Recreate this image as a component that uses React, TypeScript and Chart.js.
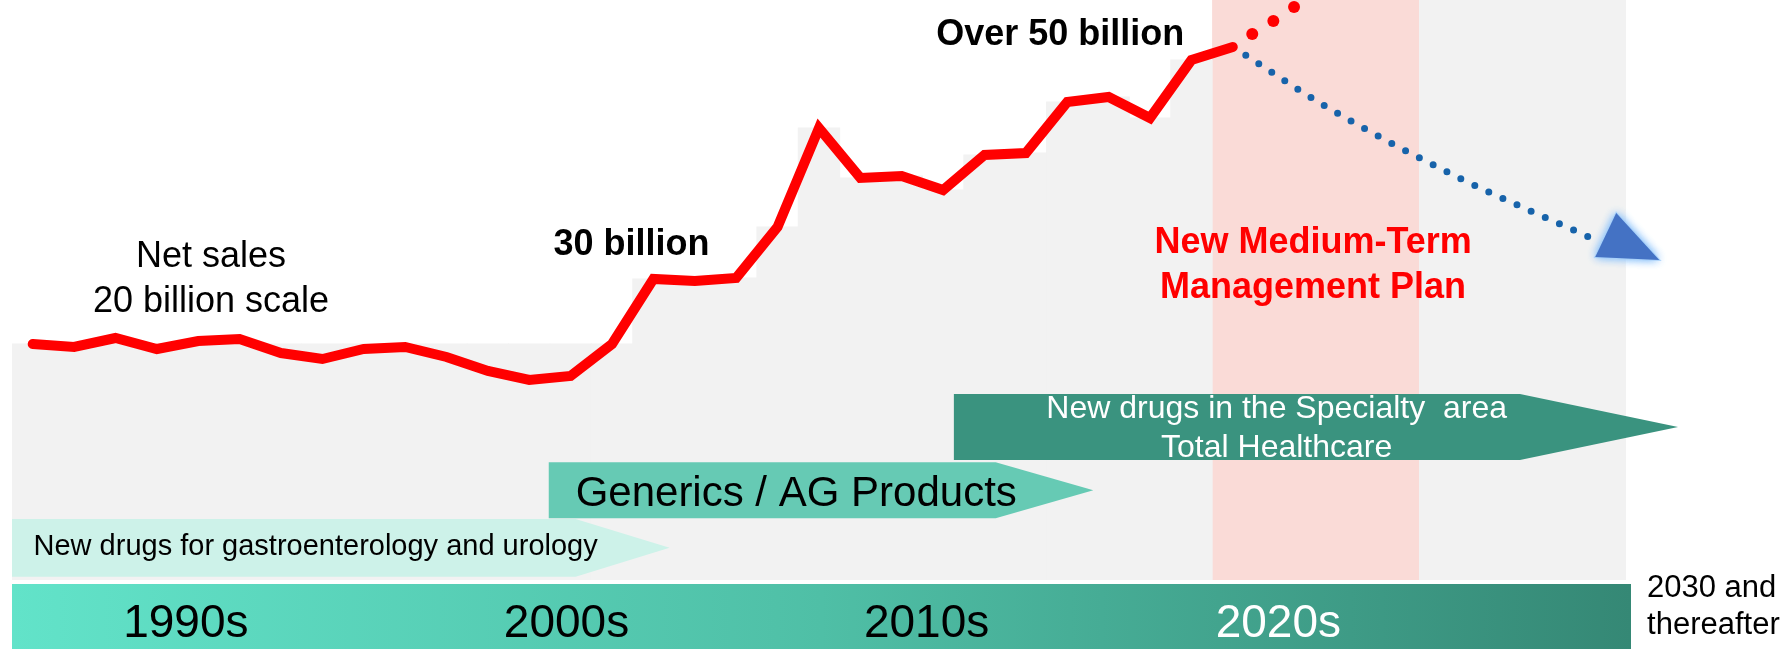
import React, { useEffect, useRef } from 'react';
import { Chart, registerables } from 'chart.js';

Chart.register(...registerables);

// ---------- data ----------
const years = [1990, 1991, 1992, 1993, 1994, 1995, 1996, 1997, 1998, 1999, 2000, 2001, 2002, 2003, 2004, 2005, 2006, 2007, 2008, 2009, 2010, 2011, 2012, 2013, 2014, 2015, 2016, 2017, 2018, 2019];
const netSales = [23.6, 23.3, 24.2, 23.1, 23.9, 24.1, 22.7, 22.1, 23.1, 23.3, 22.3, 20.9, 20.0, 20.4, 23.6, 30.1, 29.9, 30.2, 35.3, 45.2, 40.2, 40.4, 39.0, 42.5, 42.7, 47.8, 48.3, 46.2, 52.0, 53.3];

// stepped grey backdrop (one block per year, 1990-2018)
const backdropYears = [1990, 1991, 1992, 1993, 1994, 1995, 1996, 1997, 1998, 1999, 2000, 2001, 2002, 2003, 2004, 2005, 2006, 2007, 2008, 2009, 2010, 2011, 2012, 2013, 2014, 2015, 2016, 2017, 2018];
const backdropValues = [23.6, 23.6, 23.6, 23.6, 23.6, 23.6, 23.6, 23.6, 23.6, 23.6, 23.6, 23.6, 23.6, 23.6, 23.6, 30.1, 29.9, 30.2, 35.3, 45.2, 40.2, 40.4, 39.0, 42.5, 42.7, 47.8, 48.3, 46.2, 52.0];

// upside (red dots) and downside outlook (blue dotted curve)
const upsideYears = [2019.47, 2019.98, 2020.48];
const upsideValues = [54.6, 55.9, 57.3];
const outlookYears = [2019, 2021.31, 2024.33, 2027.71];
const outlookValues = [53.3, 47.2, 40.5, 34.1];

// bands
const planBand = [2018.5, 2023.5];
const futureBand = [2023.5, 2028.5];

// business arrows
const arrowLines = [
  ['New drugs for gastroenterology and urology'],
  ['Generics / AG Products'],
  ['New drugs in the Specialty  area', 'Total Healthcare'],
];
const arrowStart = [1989.5, 2002.47, 2012.26];
const arrowBodyEnd = [2003.12, 2013.27, 2025.94];
const arrowTip = [2005.39, 2015.63, 2029.76];
const arrowTop = [6.1, 11.77, 18.6];
const arrowBottom = [0.33, 6.17, 12.0];
const arrowTextX = [1990.02, 2003.12, 2020.06];
const arrowTextY = [[2.5], [7.43], [16.17, 12.33]];

// annotations
const noteTexts = ['Net sales', '20 billion scale', '30 billion', 'Over 50 billion', 'New Medium-Term', 'Management Plan'];
const noteX = [1994.31, 1994.31, 2004.47, 2014.83, 2020.94, 2020.94];
const noteY = [31.33, 26.83, 32.5, 53.5, 32.67, 28.2];

// decade band
const decades = ['1990s', '2000s', '2010s', '2020s'];
const decadeX = [1993.7, 2002.9, 2011.6, 2020.1];
const decadeY = -5.67;
const futureLabel = ['2030 and', 'thereafter'];
const futureLabelX = 2029.01;
const futureLabelY = [-1.67, -5.4];

// ---------- styles ----------
const FONT = '"Liberation Sans", Arial, Helvetica, sans-serif';
const noteStyles = [
  { font: `36px ${FONT}`, color: '#000000' },
  { font: `36px ${FONT}`, color: '#000000' },
  { font: `bold 36px ${FONT}`, color: '#000000' },
  { font: `bold 36px ${FONT}`, color: '#000000' },
  { font: `bold 36px ${FONT}`, color: '#ff0000' },
  { font: `bold 36px ${FONT}`, color: '#ff0000' },
];
const arrowStyles = [
  { fill: '#cdf2e9', font: `29px ${FONT}`, color: '#000000', align: 'left' },
  { fill: '#66cab4', font: `42px ${FONT}`, color: '#000000', align: 'left' },
  { fill: '#3a937f', font: `32px ${FONT}`, color: '#ffffff', align: 'center' },
];
const decadeColors = ['#000000', '#000000', '#000000', '#ffffff'];

const decorPlugin = {
  id: 'decor',
  beforeDatasetsDraw(chart: any) {
    const { ctx, chartArea, scales } = chart;
    const x = scales.x;
    ctx.save();
    ctx.fillStyle = '#f2f2f2';
    const f0 = x.getPixelForValue(futureBand[0]);
    const f1 = x.getPixelForValue(futureBand[1]);
    ctx.fillRect(f0 - 0.5, chartArea.top, f1 - f0 + 0.5, chartArea.bottom - chartArea.top);
    ctx.fillStyle = '#fadbd7';
    const p0 = x.getPixelForValue(planBand[0]);
    const p1 = x.getPixelForValue(planBand[1]);
    ctx.fillRect(p0, chartArea.top, p1 - p0, chartArea.bottom - chartArea.top);
    ctx.restore();
  },
  afterDatasetsDraw(chart: any) {
    const { ctx, chartArea, scales } = chart;
    const x = scales.x;
    const y = scales.y;
    ctx.save();

    // business arrows
    for (let i = 0; i < arrowLines.length; i++) {
      const st = arrowStyles[i];
      const xl = x.getPixelForValue(arrowStart[i]);
      const xb = x.getPixelForValue(arrowBodyEnd[i]);
      const xt = x.getPixelForValue(arrowTip[i]);
      const yt = y.getPixelForValue(arrowTop[i]);
      const yb = y.getPixelForValue(arrowBottom[i]);
      ctx.beginPath();
      ctx.moveTo(xl, yt);
      ctx.lineTo(xb, yt);
      ctx.lineTo(xt, (yt + yb) / 2);
      ctx.lineTo(xb, yb);
      ctx.lineTo(xl, yb);
      ctx.closePath();
      ctx.fillStyle = st.fill;
      ctx.fill();
      ctx.font = st.font;
      ctx.fillStyle = st.color;
      ctx.textAlign = st.align;
      ctx.textBaseline = 'alphabetic';
      arrowLines[i].forEach((line, j) => {
        ctx.fillText(line, x.getPixelForValue(arrowTextX[i]), y.getPixelForValue(arrowTextY[i][j]));
      });
    }

    // annotations
    ctx.textAlign = 'center';
    ctx.textBaseline = 'alphabetic';
    noteTexts.forEach((t, i) => {
      ctx.font = noteStyles[i].font;
      ctx.fillStyle = noteStyles[i].color;
      ctx.fillText(t, x.getPixelForValue(noteX[i]), y.getPixelForValue(noteY[i]));
    });

    // outlook arrow head
    const last = outlookYears.length - 1;
    const hx = x.getPixelForValue(outlookYears[last]);
    const hy = y.getPixelForValue(outlookValues[last]);
    const tri = () => {
      ctx.beginPath();
      ctx.moveTo(hx + 23, hy - 26);
      ctx.lineTo(hx + 66, hy + 21);
      ctx.lineTo(hx + 2, hy + 18);
      ctx.closePath();
    };
    ctx.shadowColor = 'rgba(140, 195, 250, 1)';
    ctx.shadowBlur = 10;
    ctx.fillStyle = '#4472c4';
    tri();
    ctx.fill();
    tri();
    ctx.fill();
    ctx.shadowBlur = 0;
    ctx.shadowColor = 'transparent';
    ctx.strokeStyle = 'rgba(170, 210, 250, 0.9)';
    ctx.lineWidth = 2;
    tri();
    ctx.stroke();
    ctx.fillStyle = '#4472c4';
    tri();
    ctx.fill();

    // decade band
    const top = chartArea.bottom + 4;
    const left = chartArea.left;
    const right = chartArea.right + 3;
    const grad = ctx.createLinearGradient(left, 0, right, 0);
    grad.addColorStop(0, '#62e3c9');
    grad.addColorStop(0.5, '#4fbfa6');
    grad.addColorStop(1, '#358875');
    ctx.fillStyle = grad;
    ctx.fillRect(left, top, right - left, chart.height - top);
    ctx.font = `46px ${FONT}`;
    ctx.textAlign = 'center';
    decades.forEach((d, i) => {
      ctx.fillStyle = decadeColors[i];
      ctx.fillText(d, x.getPixelForValue(decadeX[i]), y.getPixelForValue(decadeY));
    });
    ctx.font = `31px ${FONT}`;
    ctx.textAlign = 'left';
    ctx.fillStyle = '#000000';
    futureLabel.forEach((t, i) => {
      ctx.fillText(t, x.getPixelForValue(futureLabelX), y.getPixelForValue(futureLabelY[i]));
    });

    ctx.restore();
  },
};

export default function App() {
  const ref = useRef<HTMLCanvasElement | null>(null);

  useEffect(() => {
    if (!ref.current) return;
    const chart = new Chart(ref.current, {
      type: 'line',
      data: {
        datasets: [
          {
            type: 'line',
            label: 'Net sales',
            data: years.map((yr, i) => ({ x: yr, y: netSales[i] })),
            borderColor: '#ff0000',
            borderWidth: 10,
            borderCapStyle: 'round',
            borderJoinStyle: 'miter',
            pointRadius: 0,
            tension: 0,
            fill: false,
            order: 1,
          },
          {
            type: 'line',
            label: 'Upside',
            data: upsideYears.map((yr, i) => ({ x: yr, y: upsideValues[i] })),
            showLine: false,
            pointRadius: 6,
            pointBorderWidth: 0,
            pointBackgroundColor: '#ff0000',
            pointBorderColor: '#ff0000',
            order: 2,
          },
          {
            type: 'line',
            label: 'Outlook',
            data: outlookYears.map((yr, i) => ({ x: yr, y: outlookValues[i] })),
            borderColor: '#1763aa',
            borderWidth: 7,
            borderDash: [0, 15.5],
            borderCapStyle: 'round',
            cubicInterpolationMode: 'monotone',
            pointRadius: 0,
            fill: false,
            order: 3,
          },
          {
            type: 'bar',
            label: 'Backdrop',
            data: backdropYears.map((yr, i) => ({ x: yr, y: backdropValues[i] })),
            backgroundColor: '#f2f2f2',
            borderWidth: 0,
            barPercentage: 1,
            categoryPercentage: 1,
            inflateAmount: 0.5,
            order: 10,
          },
        ],
      },
      options: {
        responsive: false,
        devicePixelRatio: 1,
        animation: false,
        layout: {
          autoPadding: false,
          padding: { left: 12, top: 0, right: 161, bottom: 69 },
        },
        scales: {
          x: { type: 'linear', min: 1989.5, max: 2028.55, display: false, offset: false },
          y: { type: 'linear', min: 0, max: 58, display: false },
        },
        plugins: {
          legend: { display: false },
          tooltip: { enabled: false },
        },
      },
      plugins: [decorPlugin],
    } as any);
    return () => chart.destroy();
  }, []);

  return (
    <div style={{ position: 'absolute', left: 0, top: 0, width: 1789, height: 649, background: '#ffffff' }}>
      <canvas ref={ref} width={1789} height={649} style={{ display: 'block' }} />
    </div>
  );
}
